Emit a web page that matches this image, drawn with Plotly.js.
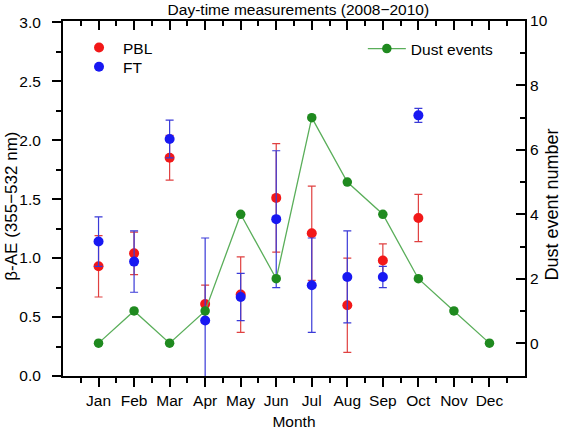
<!DOCTYPE html>
<html>
<head>
<meta charset="utf-8">
<script src="https://cdn.plot.ly/plotly-3.0.1.min.js"></script>
<style>html,body{margin:0;padding:0;background:#fff;}#chart{width:564px;height:432px;}</style>
</head>
<body>
<div id="chart"></div>
<script>
var months = [1,2,3,4,5,6,7,8,9,10,11,12];
var monthLabels = ['Jan','Feb','Mar','Apr','May','Jun','Jul','Aug','Sep','Oct','Nov','Dec'];
var halfMonths = [0.5,1.5,2.5,3.5,4.5,5.5,6.5,7.5,8.5,9.5,10.5,11.5,12.5];
var aeMonths = [1,2,3,4,5,6,7,8,9,10];
var pblValues = [0.93,1.04,1.85,0.61,0.69,1.51,1.21,0.60,0.98,1.34];
var pblErrors = [0.26,0.18,0.19,0.16,0.32,0.46,0.40,0.40,0.14,0.20];
var ftValues  = [1.14,0.97,2.01,0.47,0.67,1.33,0.77,0.84,0.84,2.21];
var ftErrors  = [0.21,0.26,0.16,0.70,0.20,0.58,0.40,0.39,0.09,0.06];
var dustEvents = [0,1,0,1,4,2,7,5,4,2,1,0];
var dustTicks = [0,2,4,6,8,10];
var dustMinorTicks = [1,3,5,7,9];

var font = "'Liberation Sans', Arial, Helvetica, sans-serif";

var traces = [
  {
    x: aeMonths, y: pblValues, name: 'PBL', type: 'scatter', mode: 'markers',
    marker: {color: '#f21818', size: 10},
    error_y: {type: 'data', array: pblErrors, visible: true, color: '#e04040', thickness: 1.2, width: 4},
    xaxis: 'x', yaxis: 'y', legend: 'legend'
  },
  {
    x: aeMonths, y: ftValues, name: 'FT', type: 'scatter', mode: 'markers',
    marker: {color: '#1818f2', size: 10},
    error_y: {type: 'data', array: ftErrors, visible: true, color: '#3a3ad8', thickness: 1.2, width: 4},
    xaxis: 'x', yaxis: 'y', legend: 'legend3'
  },
  {
    x: months, y: dustEvents, name: 'Dust events', type: 'scatter', mode: 'lines+markers',
    line: {color: '#5aae5a', width: 1.3},
    marker: {color: '#1f8a1f', size: 9.5},
    xaxis: 'x2', yaxis: 'y2', legend: 'legend2'
  }
];

var layout = {
  width: 564, height: 432,
  margin: {l: 63, r: 39, t: 21, b: 56},
  paper_bgcolor: '#fff', plot_bgcolor: '#fff',
  font: {family: font, size: 15.5, color: '#000'},
  title: {text: 'Day-time measurements (2008\u22122010)', font: {family: font, size: 15.5, color: '#000'},
          x: 0.529, xanchor: 'center', y: 0.99, yanchor: 'top', pad: {t: 0}},
  showlegend: true,
  xaxis: {
    range: [0, 13], tickmode: 'array', tickvals: months, ticktext: monthLabels,
    showgrid: false, zeroline: false, showline: true, linecolor: '#000', linewidth: 2,
    ticks: 'outside', ticklen: 9, tickwidth: 2, tickcolor: '#000',
    tickfont: {family: font, size: 15.5, color: '#000'},
    minor: {tickmode: 'array', tickvals: halfMonths, ticks: 'outside', ticklen: 5, tickwidth: 2, tickcolor: '#000', showgrid: false},
    title: {text: 'Month', font: {family: font, size: 15.5, color: '#000'}, standoff: 9}
  },
  xaxis2: {
    overlaying: 'x', side: 'top', anchor: 'y2', range: [0, 13], tickmode: 'array', tickvals: months,
    showticklabels: false, showgrid: false, zeroline: false, showline: true, linecolor: '#000', linewidth: 2,
    ticks: 'inside', ticklen: 9, tickwidth: 2, tickcolor: '#000',
    minor: {tickmode: 'array', tickvals: halfMonths, ticks: 'inside', ticklen: 5, tickwidth: 2, tickcolor: '#000', showgrid: false}
  },
  yaxis: {
    range: [0, 3.01], tickmode: 'linear', tick0: 0, dtick: 0.5, tickformat: '.1f',
    showgrid: false, zeroline: false, showline: true, linecolor: '#000', linewidth: 2,
    ticks: 'outside', ticklen: 9, tickwidth: 2, tickcolor: '#000', ticklabelstandoff: 8,
    tickfont: {family: font, size: 15.5, color: '#000'},
    minor: {tickmode: 'linear', tick0: 0.25, dtick: 0.5, ticks: 'outside', ticklen: 5, tickwidth: 2, tickcolor: '#000', showgrid: false}
  },
  yaxis2: {
    overlaying: 'y', side: 'right', anchor: 'x2', range: [-1.02, 10.0], tickmode: 'array', tickvals: dustTicks,
    showgrid: false, zeroline: false, showline: true, linecolor: '#000', linewidth: 2,
    ticks: 'inside', ticklen: 9, tickwidth: 2, tickcolor: '#000',
    tickfont: {family: font, size: 15.5, color: '#000'},
    minor: {tickmode: 'array', tickvals: dustMinorTicks, ticks: 'inside', ticklen: 5, tickwidth: 2, tickcolor: '#000', showgrid: false}
  },
  annotations: [
    {text: '\u03B2-AE (355\u2212532 nm)', xref: 'paper', yref: 'paper', x: -0.111, y: 0.479,
     xanchor: 'center', yanchor: 'middle', textangle: -90, showarrow: false,
     font: {family: font, size: 17, color: '#000'}},
    {text: 'Dust event number', xref: 'paper', yref: 'paper', x: 1.0584, y: 0.483,
     xanchor: 'center', yanchor: 'middle', textangle: -90, showarrow: false,
     font: {family: font, size: 18, color: '#000'}}
  ],
  legend: {
    x: 0.026, y: 0.924, xanchor: 'left', yanchor: 'middle', bgcolor: 'rgba(0,0,0,0)',
    font: {family: font, size: 15.5, color: '#000'}, itemwidth: 38
  },
  legend3: {
    x: 0.026, y: 0.870, xanchor: 'left', yanchor: 'middle', bgcolor: 'rgba(0,0,0,0)',
    font: {family: font, size: 15.5, color: '#000'}, itemwidth: 38
  },
  legend2: {
    x: 0.649, y: 0.921, xanchor: 'left', yanchor: 'middle', bgcolor: 'rgba(0,0,0,0)',
    font: {family: font, size: 15.5, color: '#000'}, itemwidth: 38
  }
};

Plotly.newPlot('chart', traces, layout, {displayModeBar: false, staticPlot: true});
</script>
</body>
</html>
